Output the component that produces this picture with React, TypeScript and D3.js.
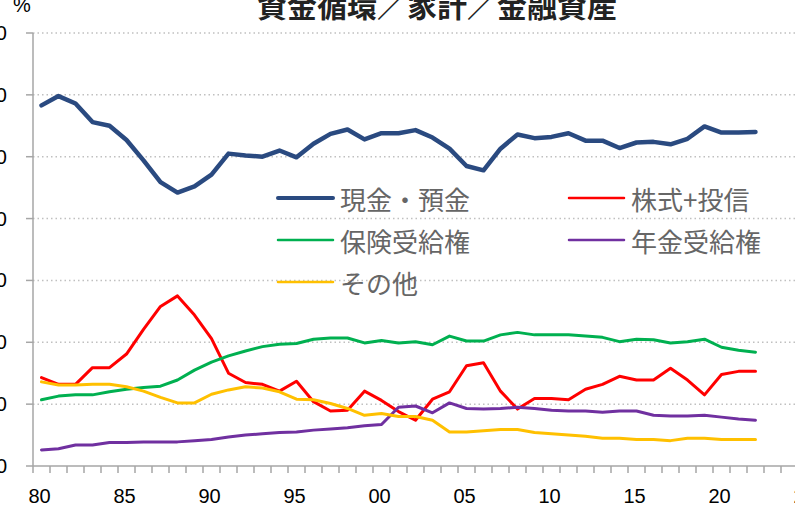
import * as d3 from "d3";

// 資金循環 / 家計 / 金融資産 (構成比, %)
const years = d3.range(1980, 2023);
const axisYears = d3.range(1980, 2026);
const tickYears = [1980, 1985, 1990, 1995, 2000, 2005, 2010, 2015, 2020, 2025];
const yTicks = [0, 10, 20, 30, 40, 50, 60, 70];

const cashDeposits = [
  58.3, 59.8, 58.6, 55.6, 55.0, 52.7, 49.4, 45.9, 44.2, 45.2, 47.1, 50.5, 50.2,
  50.0, 51.0, 49.9, 52.1, 53.7, 54.4, 52.8, 53.8, 53.8, 54.3, 53.1, 51.3, 48.5,
  47.8, 51.3, 53.6, 53.0, 53.2, 53.8, 52.6, 52.6, 51.4, 52.3, 52.4, 52.0, 52.9,
  54.9, 53.9, 53.9, 54.0,
];
const stocksFunds = [
  14.3, 13.2, 13.2, 15.9, 15.9, 18.1, 22.1, 25.8, 27.5, 24.4, 20.6, 15.0, 13.5,
  13.2, 12.1, 13.7, 10.4, 8.9, 9.0, 12.1, 10.6, 8.8, 7.4, 10.8, 12.0, 16.2,
  16.7, 12.1, 9.2, 10.9, 10.9, 10.7, 12.4, 13.2, 14.5, 13.9, 13.9, 15.8, 13.9,
  11.5, 14.8, 15.3, 15.3,
];
const insurance = [
  10.7, 11.3, 11.5, 11.5, 12.0, 12.4, 12.7, 12.9, 13.9, 15.5, 16.8, 17.8, 18.6,
  19.3, 19.7, 19.8, 20.5, 20.7, 20.7, 19.9, 20.3, 19.9, 20.1, 19.6, 21.0, 20.2,
  20.2, 21.2, 21.6, 21.2, 21.2, 21.2, 21.0, 20.8, 20.1, 20.5, 20.4, 19.9, 20.1,
  20.5, 19.2, 18.7, 18.4,
];
const pension = [
  2.6, 2.8, 3.4, 3.4, 3.8, 3.8, 3.9, 3.9, 3.9, 4.1, 4.3, 4.7, 5.0, 5.2, 5.4,
  5.5, 5.8, 6.0, 6.2, 6.5, 6.7, 9.5, 9.7, 8.6, 10.2, 9.3, 9.2, 9.3, 9.5, 9.3,
  9.0, 8.9, 8.9, 8.7, 8.9, 8.9, 8.2, 8.1, 8.1, 8.2, 7.9, 7.6, 7.4,
];
const others = [
  13.6, 13.1, 13.1, 13.2, 13.2, 12.8, 12.1, 11.1, 10.2, 10.2, 11.6, 12.3, 12.8,
  12.6, 12.0, 10.8, 10.7, 10.1, 9.3, 8.2, 8.5, 8.0, 8.0, 7.4, 5.5, 5.5, 5.7,
  5.9, 5.9, 5.4, 5.2, 5.0, 4.8, 4.5, 4.5, 4.3, 4.3, 4.1, 4.5, 4.5, 4.3, 4.3,
  4.3,
];

const seriesNames = ["現金・預金", "株式+投信", "保険受給権", "年金受給権", "その他"];
const seriesValues = [cashDeposits, stocksFunds, insurance, pension, others];
const seriesColors = ["#2a4a80", "#ff0000", "#00b050", "#7030a0", "#ffc000"];
const seriesWidths = [4.5, 3, 3, 3, 3];

export default function App() {
  const width = 795;
  const height = 517;
  const left = 33;
  const bottom = 466;

  const x = d3
    .scaleBand<number>()
    .domain(axisYears)
    .range([left, left + axisYears.length * 17]);
  const cx = (yr: number) => (x(yr) ?? 0) + x.bandwidth() / 2;
  const y = d3.scaleLinear().domain([0, 70]).range([bottom, 33]);

  const line = d3
    .line<number>()
    .x((_, i) => cx(years[i]))
    .y((d) => y(d));

  const legend = seriesNames.map((name, i) => ({
    name,
    color: seriesColors[i],
    w: seriesWidths[i] - 0.5,
    lx: i % 2 === 0 ? 278 : 569,
    ly: 198 + Math.floor(i / 2) * 42,
  }));

  return (
    <svg
      width={width}
      height={height}
      style={{ position: "absolute", left: 0, top: 0, background: "#fff" }}
      fontFamily="'Liberation Sans', Arial, sans-serif"
    >
      {/* grid */}
      {yTicks
        .filter((t) => t > 0)
        .map((t) => (
          <line
            key={t}
            x1={left}
            x2={width + 20}
            y1={y(t)}
            y2={y(t)}
            stroke="#c0c0c0"
            strokeWidth={1.5}
            strokeDasharray="1.5 3"
          />
        ))}

      {/* axes */}
      <line x1={left} x2={left} y1={y(70)} y2={bottom} stroke="#a6a6a6" strokeWidth={1.5} />
      <line x1={left} x2={width + 20} y1={bottom} y2={bottom} stroke="#a6a6a6" strokeWidth={1.5} />
      {yTicks.map((t) => (
        <g key={t}>
          <line x1={left - 7} x2={left} y1={y(t)} y2={y(t)} stroke="#a6a6a6" strokeWidth={1.5} />
          <text
            x={7}
            y={y(t)}
            textAnchor="end"
            dominantBaseline="central"
            fontSize={20}
            fill="#000"
          >
            {t}
          </text>
        </g>
      ))}
      {axisYears.map((yr) => (
        <line
          key={yr}
          x1={x(yr) ?? 0}
          x2={x(yr) ?? 0}
          y1={bottom}
          y2={bottom + 7}
          stroke="#a6a6a6"
          strokeWidth={1.5}
        />
      ))}
      {tickYears.map((yr) => (
        <text key={yr} x={cx(yr) - 2} y={503} textAnchor="middle" fontSize={20} fill="#000">
          {String(yr).slice(2)}
        </text>
      ))}

      {/* series */}
      {seriesValues.map((vals, i) => (
        <path
          key={seriesNames[i]}
          d={line(vals) ?? ""}
          fill="none"
          stroke={seriesColors[i]}
          strokeWidth={seriesWidths[i]}
          strokeLinejoin="round"
          strokeLinecap="round"
        />
      ))}

      {/* legend */}
      {legend.map((l) => (
        <g key={l.name}>
          <line
            x1={l.lx}
            x2={l.lx + 55}
            y1={l.ly}
            y2={l.ly}
            stroke={l.color}
            strokeWidth={l.w}
            strokeLinecap="round"
          />
          <text
            x={l.lx + 62}
            y={l.ly}
            dominantBaseline="central"
            fontSize={26}
            fill="#666"
            fontFamily="'Noto Sans CJK JP', sans-serif"
          >
            {l.name}
          </text>
        </g>
      ))}

      {/* titles */}
      <text x={13} y={12} fontSize={20} fill="#000">
        %
      </text>
      <text
        x={437}
        y={17}
        textAnchor="middle"
        fontSize={30}
        fontWeight={700}
        fill="#222"
        fontFamily="'Noto Sans CJK JP', sans-serif"
      >
        資金循環／家計／金融資産
      </text>
    </svg>
  );
}
